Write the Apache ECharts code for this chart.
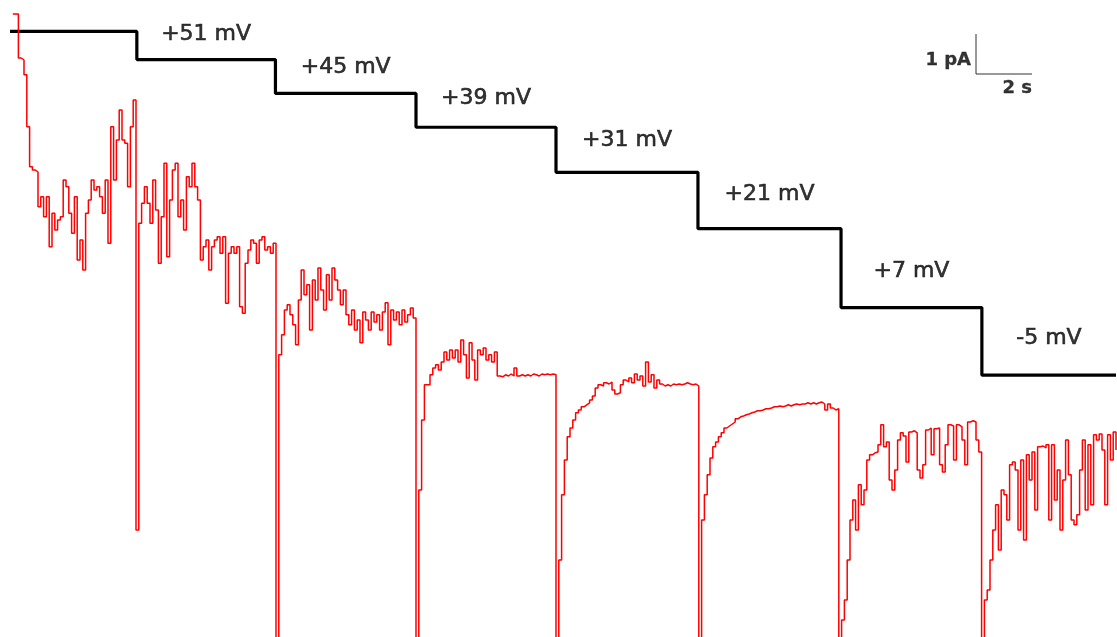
<!DOCTYPE html>
<html>
<head>
<meta charset="utf-8">
<script src="https://cdn.jsdelivr.net/npm/echarts@6/dist/echarts.min.js"></script>
<style>
  html, body { margin: 0; padding: 0; background: #fff; }
  #main { width: 1117px; height: 637px; }
</style>
</head>
<body>
<div id="main"></div>
<script>
// voltage protocol: step start times (s) and levels (mV)
var stepTimes = [0, 4.53, 9.48, 14.5, 19.5, 24.57, 29.68, 34.71, 39.5];
var stepVolts = [56, 51, 45, 39, 31, 21, 7, -5];
var stepLabels = ['', '+51 mV', '+45 mV', '+39 mV', '+31 mV', '+21 mV', '+7 mV', '-5 mV'];

// single channel current (pA), sampled every 0.1 s, one array per step
var dt = 0.1;
var curHold = [
  15.65, 15.65, 14.55, 14.5, 14.13, 12.83, 11.83, 11.75, 11.7, 10.83,
  11.08, 10.58, 11.08, 9.83, 10.67, 10.25, 10.5, 10.58, 11.5, 11.33,
  10.67, 10.17, 11.08, 9.5, 10.0, 9.25, 10.67, 11.0, 11.5, 11.25,
  11.33, 11.08, 10.67, 11.5, 9.92, 12.83, 11.5, 12.5, 13.25, 12.5,
  12.42, 11.33, 12.83, 13.5, 2.75
];
var cur51 = [
  10.42, 10.92, 11.33, 10.92, 10.42, 11.5, 10.75, 9.42, 10.58, 11.92,
  9.58, 11.0, 11.75, 11.92, 10.58, 11.0, 10.25, 11.58, 11.33, 11.92,
  11.33, 11.0, 9.5, 9.83, 10.0, 9.25, 9.83, 10.0, 10.08, 9.67,
  10.08, 8.42, 9.67, 9.83, 9.67, 9.83, 8.33, 8.17, 9.42, 9.75,
  10.0, 9.92, 9.42, 10.0, 10.08, 9.75, 9.83, 9.67, 9.92, -0.5
];
var cur45 = [
  7.13, 7.63, 8.25, 8.38, 8.13, 7.88, 7.38, 8.5, 9.25, 8.63,
  8.88, 7.75, 9.0, 8.5, 9.3, 8.75, 8.25, 9.13, 8.5, 9.3,
  9.0, 8.75, 8.38, 8.75, 8.13, 7.88, 8.25, 7.75, 8.0, 7.43,
  8.2, 8.0, 7.75, 8.2, 7.95, 8.13, 7.75, 8.2, 8.43, 7.38,
  8.25, 8.0, 8.2, 7.88, 8.25, 7.95, 8.13, 8.3, 8.05, -0.5
];
var cur39 = [
  3.75, 5.5, 6.38, 6.38, 6.63, 6.8, 6.88, 6.75, 6.95, 7.2,
  7.0, 7.25, 7.05, 7.25, 6.95, 7.5, 7.13, 6.55, 7.43, 7.0,
  6.5, 7.25, 7.13, 7.3, 7.0, 7.13, 6.95, 7.2, 6.6, 6.58,
  6.63, 6.6, 6.65, 6.6, 6.8, 6.6, 6.63, 6.6, 6.63, 6.6,
  6.65, 6.63, 6.6, 6.65, 6.63, 6.65, 6.63, 6.65, 6.63, -0.5
];
var cur31 = [
  2.0, 3.63, 4.5, 5.08, 5.3, 5.5, 5.68, 5.75, 5.83, 5.88,
  5.93, 6.0, 6.1, 6.3, 6.38, 6.35, 6.43, 6.4, 6.45, 6.25,
  6.15, 6.18, 6.38, 6.5, 6.45, 6.55, 6.43, 6.65, 6.5, 6.6,
  6.35, 6.95, 6.45, 6.63, 6.3, 6.5, 6.4, 6.35, 6.38, 6.35,
  6.4, 6.38, 6.4, 6.38, 6.4, 6.43, 6.4, 6.38, 6.4, 6.35,
  -0.5
];
var cur21 = [
  3.0, 3.63, 4.13, 4.55, 4.83, 4.95, 5.08, 5.18, 5.3, 5.35,
  5.4, 5.45, 5.53, 5.58, 5.6, 5.63, 5.65, 5.68, 5.7, 5.73,
  5.73, 5.75, 5.78, 5.78, 5.8, 5.83, 5.83, 5.85, 5.83, 5.85,
  5.88, 5.85, 5.88, 5.9, 5.88, 5.9, 5.9, 5.93, 5.9, 5.93,
  5.9, 5.93, 5.95, 5.9, 5.75, 5.9, 5.8, 5.75, 5.78, -0.5
];
var cur7 = [
  0.5, 1.0, 2.0, 3.0, 3.5, 2.75, 3.88, 3.38, 3.75, 4.5,
  4.63, 4.68, 4.7, 4.88, 5.38, 4.83, 4.95, 4.0, 3.75, 4.25,
  5.0, 5.18, 5.1, 4.45, 5.2, 5.23, 5.18, 4.25, 4.05, 4.38,
  5.25, 5.3, 4.63, 5.28, 5.3, 4.38, 4.2, 4.88, 5.38, 5.35,
  4.5, 5.38, 5.33, 5.0, 4.38, 5.45, 5.48, 5.45, 5.0, 4.7,
  -0.5
];
var curM5 = [
  1.0, 1.25, 2.0, 2.75, 3.38, 2.25, 3.75, 3.63, 3.0, 4.38,
  4.45, 4.25, 2.75, 4.5, 2.5, 4.63, 4.0, 4.7, 3.25, 4.83,
  4.85, 4.8, 4.88, 3.0, 4.88, 3.5, 4.25, 2.75, 4.0, 5.0,
  4.13, 3.0, 2.88, 3.13, 4.25, 5.0, 3.25, 4.88, 3.38, 5.13,
  5.0, 5.15, 4.75, 3.38, 5.13, 4.5, 5.2, 4.75
];

// scale bar: corner (s, pA) and lengths
var barCorner = [34.5, 14.15];
var barTime = 2;   // s
var barAmp = 1;    // pA

// how far (px) each step label sits above its step
var labelLift = [25, 26, 29, 32, 34.5, 36, 37];

var myChart = echarts.init(document.getElementById('main'));

var current = [].concat(curHold, cur51, cur45, cur39, cur31, cur21, cur7, curM5);
var currentData = current.map(function (v, i) {
  return [+((i + 1) * dt).toFixed(2), v];
});

var voltData = [];
for (var i = 0; i < stepVolts.length; i++) {
  voltData.push([stepTimes[i], stepVolts[i]]);
}
voltData.push([stepTimes[stepTimes.length - 1], stepVolts[stepVolts.length - 1]]);

var labelData = [];
for (var j = 1; j < stepVolts.length; j++) {
  labelData.push({
    value: [(stepTimes[j] + stepTimes[j + 1]) / 2, stepVolts[j]],
    name: stepLabels[j],
    label: { offset: [0, -labelLift[j - 1]] }
  });
}

var option = {
  animation: false,
  backgroundColor: '#fff',
  grid: { left: 10, right: 1, top: 0, bottom: 0 },
  xAxis: { type: 'value', min: 0, max: 39.5, show: false },
  yAxis: [
    { type: 'value', min: 0.075, max: 16, show: false },
    { type: 'value', min: -51.46, max: 61.58, show: false }
  ],
  series: [
    {
      name: 'Voltage',
      type: 'line',
      yAxisIndex: 1,
      step: 'end',
      symbol: 'none',
      data: voltData,
      lineStyle: { color: '#000', width: 3.2 },
      z: 2,
      silent: true
    },
    {
      name: 'Current',
      type: 'line',
      yAxisIndex: 0,
      step: 'end',
      symbol: 'none',
      data: currentData,
      lineStyle: { color: '#ff0000', width: 1.5 },
      z: 3,
      silent: true
    },
    {
      name: 'Scale bar',
      type: 'line',
      yAxisIndex: 0,
      symbol: 'none',
      data: [
        [barCorner[0], barCorner[1] + barAmp],
        barCorner,
        [barCorner[0] + barTime, barCorner[1]]
      ],
      lineStyle: { color: '#333', width: 1 },
      silent: true
    },
    {
      name: 'Step labels',
      type: 'scatter',
      yAxisIndex: 1,
      symbolSize: 0,
      data: labelData,
      label: {
        show: true,
        position: 'inside',
        fontFamily: 'DejaVu Sans',
        fontSize: 22,
        color: '#000',
        textBorderColor: '#000',
        textBorderWidth: 0.6,
        formatter: '{b}'
      },
      silent: true
    },
    {
      name: 'Scale labels',
      type: 'scatter',
      yAxisIndex: 0,
      symbolSize: 0,
      data: [
        {
          value: [barCorner[0], barCorner[1] + barAmp * 0.35],
          name: barAmp + ' pA',
          label: { position: 'left', distance: 5 }
        },
        {
          value: [barCorner[0] + barTime, barCorner[1]],
          name: barTime + ' s',
          label: { position: 'bottom', align: 'right', distance: 5 }
        }
      ],
      label: {
        show: true,
        fontFamily: 'DejaVu Sans',
        fontWeight: 'bold',
        fontSize: 18,
        color: '#000',
        textBorderColor: '#000',
        textBorderWidth: 0.3,
        formatter: '{b}'
      },
      silent: true
    }
  ]
};

option && myChart.setOption(option);
</script>
</body>
</html>
